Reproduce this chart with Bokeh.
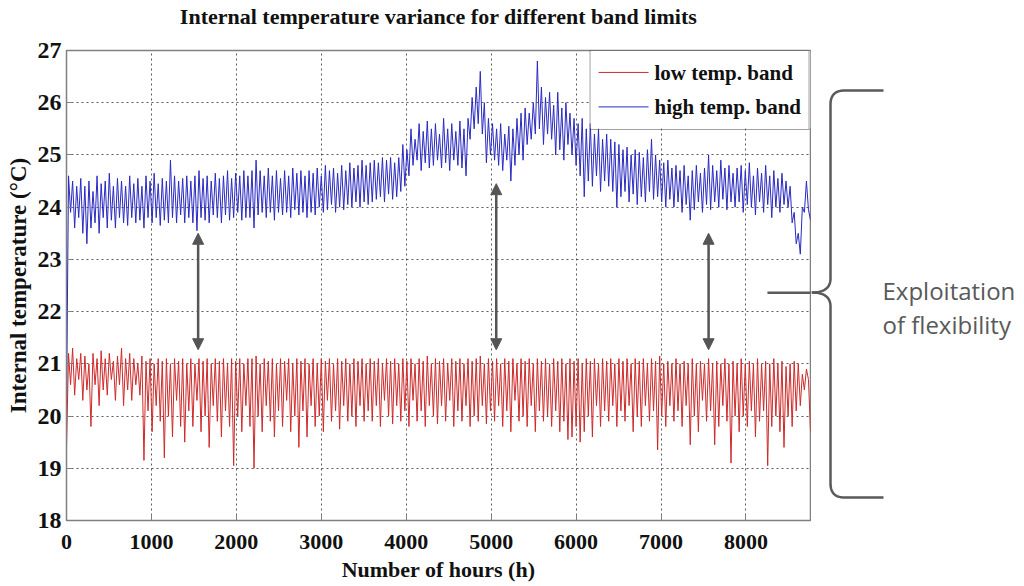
import numpy as np
from bokeh.plotting import figure
from bokeh.layouts import row
from bokeh.models import Range1d, Arrow, NormalHead, Label, FixedTicker, Legend, LegendItem, Title
from bokeh.embed import file_html
from bokeh.resources import INLINE

# ---------------- data ----------------
hours = list(range(0, 8761, 24))  # 0 .. 8760 h, 366 samples

low_band = [
    19.4, 21.2, 20.6, 21.3, 20.4, 21.1, 20.7, 21.2, 20.3, 21.15, 20.5, 21.0, 19.8, 21.2, 20.6, 21.1, 20.2, 21.25, 20.5, 21.1, 20.4, 21.2, 20.7, 21.05, 20.3, 21.15, 20.6, 21.3, 20.2, 21.1,
    20.5, 21.2, 20.3, 21.1, 20.6, 21.0, 20.4, 21.15, 19.15, 21.05, 20.1, 21.1, 19.7, 21.0, 20.2, 21.1, 19.9, 21.05, 19.2, 21.1, 20.0, 21.0, 19.6, 21.1, 20.3, 21.05, 19.8, 21.1, 19.5, 21.0,
    20.1, 21.1, 19.8, 21.0, 20.3, 21.1, 19.7, 21.05, 20.0, 21.1, 19.4, 21.0, 20.2, 21.1, 19.9, 21.05, 19.6, 21.1, 20.1, 21.0, 19.8, 21.1, 19.05, 21.05, 20.0, 21.1, 19.7, 21.0, 20.2, 21.1,
    19.8, 21.1, 19.0, 21.15, 20.0, 21.0, 19.7, 21.1, 20.2, 21.05, 19.9, 21.1, 19.6, 21.0, 20.1, 21.1, 19.8, 21.05, 20.3, 21.1, 19.7, 21.0, 20.0, 21.1, 19.4, 21.05, 20.1, 21.1, 19.6, 21.0,
    20.2, 21.1, 19.8, 21.0, 20.0, 21.1, 19.7, 21.05, 20.3, 21.1, 19.9, 21.0, 20.1, 21.1, 19.75, 21.05, 20.2, 21.1, 19.9, 21.0, 20.0, 21.1, 19.8, 21.05, 20.2, 21.1, 19.9, 21.0, 20.1, 21.1,
    19.9, 21.05, 20.2, 21.1, 19.8, 21.0, 20.3, 21.1, 20.0, 21.05, 19.85, 21.1, 20.2, 21.0, 19.9, 21.1, 20.1, 21.05, 19.8, 21.1, 20.3, 21.0, 19.9, 21.1, 20.1, 21.05, 19.8, 21.15, 20.2, 21.0,
    20.0, 21.1, 19.85, 21.05, 20.2, 21.1, 19.9, 21.0, 20.3, 21.1, 19.8, 21.05, 20.1, 21.1, 19.9, 21.0, 20.2, 21.1, 19.8, 21.05, 20.0, 21.1, 19.9, 21.15, 20.2, 21.0, 19.85, 21.1, 20.1, 21.05,
    19.9, 21.1, 20.2, 21.0, 19.8, 21.1, 20.1, 21.05, 19.7, 21.1, 20.3, 21.0, 19.9, 21.1, 20.0, 21.05, 19.8, 21.1, 20.2, 21.0, 19.7, 21.1, 20.1, 21.05, 19.9, 21.1, 20.0, 21.0, 19.8, 21.1,
    20.1, 21.05, 19.7, 21.1, 19.9, 21.0, 19.55, 21.1, 19.6, 21.05, 19.8, 21.1, 19.5, 21.0, 19.7, 21.1, 20.0, 21.05, 19.6, 21.1, 20.2, 21.0, 19.8, 21.1, 20.1, 21.05, 19.9, 21.1, 20.2, 21.0,
    19.8, 21.1, 20.1, 21.05, 19.9, 21.1, 20.2, 21.0, 19.7, 21.1, 20.0, 21.05, 19.8, 21.1, 20.2, 21.0, 19.9, 21.1, 20.1, 21.05, 19.35, 21.15, 20.0, 21.0, 19.8, 21.05, 20.2, 21.0, 19.9, 21.1,
    20.1, 21.0, 19.8, 21.05, 20.2, 21.0, 19.45, 21.1, 20.0, 21.0, 19.7, 21.05, 20.3, 21.0, 19.9, 21.1, 20.1, 21.0, 19.45, 21.05, 19.8, 21.0, 20.2, 21.1, 19.9, 21.0, 19.1, 21.05, 20.0, 21.0,
    19.7, 21.1, 20.0, 21.0, 19.8, 21.05, 20.1, 21.0, 19.6, 21.1, 19.9, 21.0, 20.1, 21.05, 19.05, 21.0, 19.8, 21.1, 20.0, 21.0, 19.7, 21.05, 19.4, 20.95, 20.0, 21.0, 19.8, 21.05, 20.1, 21.0,
    20.2, 20.8, 20.5, 20.9, 20.7, 19.7,
]

high_band = [
    20.2, 24.6, 23.9, 24.5, 23.6, 24.4, 23.8, 24.55, 23.5, 24.4, 23.3, 24.5, 23.6, 24.3, 23.7, 24.6, 23.5, 24.45, 23.8, 24.5, 23.6, 24.65, 23.75, 24.4, 23.6, 24.55, 23.8, 24.5, 23.7, 24.4,
    23.65, 24.6, 23.8, 24.45, 23.7, 24.55, 23.75, 24.4, 23.6, 24.6, 23.8, 24.5, 23.7, 24.65, 23.8, 24.45, 23.65, 24.55, 23.75, 24.5, 23.7, 24.9, 23.8, 24.6, 23.7, 24.5, 23.85, 24.55, 23.7, 24.6,
    23.8, 24.5, 23.7, 24.6, 23.55, 24.7, 23.8, 24.55, 23.75, 24.6, 23.7, 24.5, 23.85, 24.65, 23.8, 24.55, 23.7, 24.6, 23.85, 24.7, 23.75, 24.55, 23.8, 24.65, 23.9, 24.6, 23.75, 24.7, 23.8, 24.6,
    23.8, 24.7, 23.6, 24.9, 23.85, 24.7, 23.9, 24.6, 23.8, 24.75, 23.9, 24.6, 23.75, 24.7, 23.9, 24.55, 23.85, 24.7, 23.9, 24.6, 23.8, 24.75, 23.95, 24.65, 23.85, 24.7, 23.9, 24.6, 23.8, 24.7,
    23.9, 24.65, 23.85, 24.75, 24.0, 24.6, 23.9, 24.8, 23.95, 24.7, 24.05, 24.75, 23.9, 24.65, 24.0, 24.8, 23.95, 24.7, 24.05, 24.85, 24.0, 24.75, 24.1, 24.8, 24.0, 24.9, 24.1, 24.8, 24.05, 24.85,
    24.1, 24.9, 24.15, 24.85, 24.2, 24.95, 24.1, 24.9, 24.25, 24.95, 24.15, 24.85, 24.2, 24.95, 24.3, 25.2, 24.4, 25.1, 24.6, 25.5, 24.8, 25.3, 24.9, 25.6, 24.7, 25.45, 24.85, 25.65, 24.75, 25.5,
    24.8, 25.6, 24.9, 25.4, 24.75, 25.7, 24.85, 25.5, 24.7, 25.6, 24.9, 25.45, 24.8, 25.65, 24.75, 25.5, 24.6, 25.7, 25.3, 26.1, 25.5, 26.3, 25.6, 26.6, 25.4, 26.0, 24.85, 25.7, 25.0, 25.6,
    24.9, 25.5, 24.8, 25.6, 24.7, 25.4, 24.9, 25.55, 24.5, 25.5, 24.8, 25.7, 25.0, 25.8, 24.9, 25.9, 25.2, 25.8, 25.3, 26.0, 25.4, 26.8, 25.5, 26.3, 25.2, 26.1, 25.4, 26.2, 25.3, 25.95,
    25.0, 26.2, 25.1, 25.9, 24.9, 26.0, 25.2, 25.8, 25.0, 25.7, 24.8, 25.6, 24.6, 25.7, 24.2, 25.5, 24.5, 25.6, 24.4, 25.4, 24.6, 25.5, 24.3, 25.3, 24.5, 25.4, 24.4, 25.3, 24.3, 25.25,
    24.0, 25.2, 24.2, 25.1, 24.3, 25.15, 24.1, 25.0, 24.25, 25.1, 24.05, 25.05, 24.2, 24.95, 24.1, 25.1, 24.3, 25.3, 24.15, 25.0, 24.2, 24.9, 24.1, 24.85, 24.0, 24.9, 24.15, 24.75, 24.0, 24.8,
    24.1, 24.7, 23.9, 24.8, 24.05, 24.6, 23.75, 24.7, 23.95, 24.8, 24.1, 24.65, 23.9, 24.75, 24.05, 25.0, 23.95, 24.8, 24.1, 24.7, 24.0, 24.9, 24.15, 24.75, 23.95, 24.8, 24.1, 24.65, 24.0, 24.75,
    24.1, 24.8, 23.9, 24.7, 24.05, 24.85, 24.0, 24.6, 23.85, 24.75, 24.1, 24.65, 23.9, 24.8, 24.05, 24.6, 23.8, 24.7, 24.0, 24.55, 23.9, 24.65, 24.05, 24.5, 24.0, 24.4, 23.7, 23.9, 23.3, 23.5,
    23.1, 24.0, 23.9, 24.5, 23.95, 23.75,
]

x_ticks = [0, 1000, 2000, 3000, 4000, 5000, 6000, 7000, 8000]
y_ticks = [18, 19, 20, 21, 22, 23, 24, 25, 26, 27]
series_labels = ["low temp. band", "high temp. band"]
title_text = "Internal temperature variance for different band limits"

# arrows between the bands (hour, top, bottom)
arrow_hours = [1550, 5060, 7560]
arrow_tops = [23.5, 24.45, 23.5]
arrow_bottoms = [21.27, 21.27, 21.27]

SERIF = "Liberation Serif"
RED = "#cf2a2a"
BLUE = "#2a2ac2"

# ---------------- main chart ----------------
p = figure(width=811, height=586, output_backend="svg", toolbar_location=None,
           x_range=Range1d(0, 8760), y_range=Range1d(18, 27),
           min_border_left=66, min_border_right=1, min_border_top=50, min_border_bottom=66,
           title=title_text)
p.title.text_font = SERIF
p.title.text_font_style = "bold"
p.title.text_font_size = "22px"
p.title.align = "center"
p.title.text_color = "#111111"
p.title.standoff = 0
# blank spacer between the frame and the title, pushes the title up
p.add_layout(Title(text=" ", text_font_size="12px", standoff=6), "above")

r_low = p.line(hours, low_band, line_color=RED, line_width=1)
r_high = p.line(hours, high_band, line_color=BLUE, line_width=1)

p.xaxis.ticker = FixedTicker(ticks=x_ticks)
p.yaxis.ticker = FixedTicker(ticks=y_ticks)
p.xgrid.ticker = FixedTicker(ticks=x_ticks)
p.ygrid.ticker = FixedTicker(ticks=y_ticks)

for ax in (p.xaxis, p.yaxis):
    ax.major_label_text_font = SERIF
    ax.major_label_text_font_style = "bold"
    ax.major_label_text_color = "#111111"
    ax.axis_label_text_font = SERIF
    ax.axis_label_text_font_style = "bold"
    ax.axis_label_text_color = "#111111"
    ax.axis_line_color = "#808080"
    ax.major_tick_line_color = "#808080"
    ax.major_tick_in = 6
    ax.major_tick_out = 0
    ax.minor_tick_line_color = None

p.xaxis.major_label_text_font_size = "22px"
p.yaxis.major_label_text_font_size = "24px"
p.xaxis.axis_label = "Number of hours (h)"
p.yaxis.axis_label = "Internal temperature (°C)"
p.xaxis.axis_label_text_font_size = "22px"
p.yaxis.axis_label_text_font_size = "23px"
p.xaxis.major_label_standoff = 14
p.yaxis.major_label_standoff = 5
p.xaxis.axis_label_standoff = 5
p.yaxis.axis_label_standoff = 4

p.grid.grid_line_color = "#333333"
p.grid.grid_line_dash = "2 3"
p.grid.grid_line_alpha = 0.8
p.outline_line_color = "#808080"
p.outline_line_width = 1.5

for xh, yt, yb in zip(arrow_hours, arrow_tops, arrow_bottoms):
    p.add_layout(Arrow(x_start=xh, y_start=yt, x_end=xh, y_end=yb,
                       line_color="#555555", line_width=2.5,
                       start=NormalHead(size=11, fill_color="#555555", line_color="#555555"),
                       end=NormalHead(size=11, fill_color="#555555", line_color="#555555")))

# tip of the brace (reaches into the plot)
p.segment(x0=[8253], y0=[22.36], x1=[8760], y1=[22.36], line_color="#5a5a5a", line_width=2.5)

# legend: white box and sample lines as glyphs, Bokeh Legend on top for border + labels
p.quad(left=[6170], right=[8760], top=[27], bottom=[25.51], fill_color="white",
       line_color=None)
sample_y = [26.58, 25.92]
p.segment(x0=[6264, 6264], y0=sample_y, x1=[6853, 6853], y1=sample_y,
          line_color=[RED, BLUE], line_width=1)
proxy_low = p.line([], [], line_color=RED, line_alpha=0)
proxy_high = p.line([], [], line_color=BLUE, line_alpha=0)
lg = Legend(items=[LegendItem(label=series_labels[0], renderers=[proxy_low]),
                   LegendItem(label=series_labels[1], renderers=[proxy_high])],
            location="top_right", margin=0, padding=8, spacing=6,
            label_text_font=SERIF, label_text_font_style="bold", label_text_font_size="21px",
            label_text_color="#111111", glyph_width=50, glyph_height=28, label_height=28,
            label_standoff=6, border_line_color="#444444", border_line_width=1,
            background_fill_alpha=0)
p.add_layout(lg, "center")

# ---------------- right panel: brace + text (screen-pixel coordinates) ----------------
q = figure(width=213, height=586, output_backend="svg", toolbar_location=None,
           x_range=Range1d(811, 1024), y_range=Range1d(520, 50),
           min_border_left=0, min_border_right=0, min_border_top=50, min_border_bottom=66)
q.axis.visible = False
q.grid.visible = False
q.outline_line_color = None

BR = "#5a5a5a"
bx, top, mid, bot, arm = 830, 90, 292, 497, 883
r = 14
def quad(p0, c, p1, n=20):
    t = np.linspace(0, 1, n)
    xs = (1 - t) ** 2 * p0[0] + 2 * (1 - t) * t * c[0] + t ** 2 * p1[0]
    ys = (1 - t) ** 2 * p0[1] + 2 * (1 - t) * t * c[1] + t ** 2 * p1[1]
    return list(xs), list(ys)

xs, ys = [arm], [top]
for seg in (quad((bx + r, top), (bx, top), (bx, top + r)),
            quad((bx, mid - r), (bx, mid), (811, mid))):
    xs += seg[0]; ys += seg[1]
q.line(xs, ys, line_color=BR, line_width=2.5)
xs, ys = [], []
for seg in (quad((811, mid), (bx, mid), (bx, mid + r)),
            quad((bx, bot - r), (bx, bot), (bx + r, bot))):
    xs += seg[0]; ys += seg[1]
xs.append(arm); ys.append(bot)
q.line(xs, ys, line_color=BR, line_width=2.5)

for txt, yy in (("Exploitation", 290), ("of flexibility", 324)):
    q.add_layout(Label(x=882, y=yy, text=txt, text_font="Open Sans", text_font_size="24px",
                       text_color="#595959", text_baseline="middle", text_align="left"))

layout = row(p, q)
open("out.html", "w").write(file_html(layout, INLINE))
